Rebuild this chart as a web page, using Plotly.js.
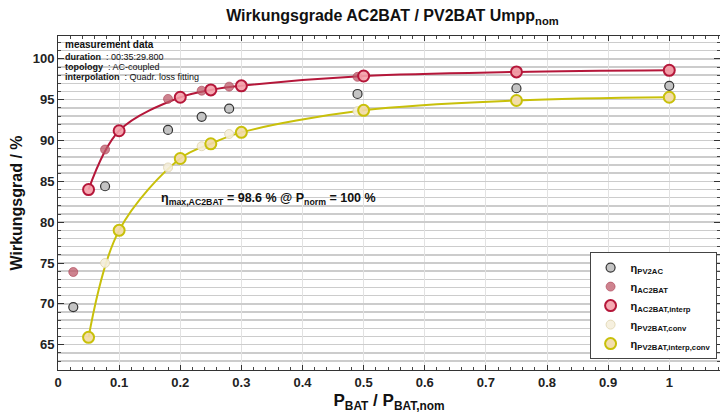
<!DOCTYPE html>
<html><head><meta charset="utf-8">
<script src="https://cdn.plot.ly/plotly-3.0.1.min.js"></script>
<style>html,body{margin:0;padding:0;background:#fff}#c{width:720px;height:415px}</style>
</head><body><div id="c"></div>
<script>
// measured points
const xMeas = [0.025, 0.077, 0.18, 0.235, 0.28, 0.49, 0.75, 1.0];
const etaPV2AC = [69.6, 84.4, 91.3, 92.9, 93.9, 95.7, 96.4, 96.7];
const etaAC2BAT = [73.9, 88.9, 95.1, 96.1, 96.6, 97.8, 98.4, 98.6];
const xConv = [0.077, 0.18, 0.235, 0.28, 0.49, 0.75, 1.0];
const etaPV2BATconv = [75.0, 86.7, 89.3, 90.8, 93.6, 94.8, 95.3];
// interpolation grid
const xInterp = [0.05, 0.1, 0.2, 0.25, 0.3, 0.5, 0.75, 1.0];
const etaAC2BATinterp = [84.0, 91.2, 95.3, 96.2, 96.7, 97.9, 98.4, 98.6];
const etaPV2BATinterp = [65.9, 79.0, 87.8, 89.6, 91.0, 93.7, 94.9, 95.3];

const xTicks = [0, 0.1, 0.2, 0.3, 0.4, 0.5, 0.6, 0.7, 0.8, 0.9, 1];
const xTickText = ['0','0.1','0.2','0.3','0.4','0.5','0.6','0.7','0.8','0.9','1'];
const yTicks = [65, 70, 75, 80, 85, 90, 95, 100];

const red = '#b5173a', yel = '#c8c00a';
const traces = [
  {x: xInterp, y: etaAC2BATinterp, mode: 'lines', line: {color: red, width: 2, shape: 'spline'}, showlegend: false, hoverinfo: 'skip'},
  {x: xInterp, y: etaPV2BATinterp, mode: 'lines', line: {color: yel, width: 2, shape: 'spline'}, showlegend: false, hoverinfo: 'skip'},
  {x: xMeas, y: etaPV2AC, mode: 'markers', name: 'η<sub>PV2AC</sub>',
   marker: {size: 9, color: '#c4c4c4', line: {color: '#333', width: 1.2}}},
  {x: xMeas, y: etaAC2BAT, mode: 'markers', name: 'η<sub>AC2BAT</sub>',
   marker: {size: 9, color: 'rgba(190,90,105,0.75)', line: {color: 'rgba(170,60,80,0.6)', width: 1}}},
  {x: xInterp, y: etaAC2BATinterp, mode: 'markers', name: 'η<sub>AC2BAT,interp</sub>',
   marker: {size: 11, color: 'rgba(245,160,170,0.9)', line: {color: red, width: 2}}},
  {x: xConv, y: etaPV2BATconv, mode: 'markers', name: 'η<sub>PV2BAT,conv</sub>',
   marker: {size: 9, color: 'rgba(245,238,220,0.9)', line: {color: 'rgba(225,215,180,0.9)', width: 1}}},
  {x: xInterp, y: etaPV2BATinterp, mode: 'markers', name: 'η<sub>PV2BAT,interp,conv</sub>',
   marker: {size: 11, color: 'rgba(242,218,165,0.9)', line: {color: yel, width: 2}}}
];

const F = 'Liberation Sans, Arial, sans-serif';
const layout = {
  width: 720, height: 415,
  margin: {l: 58, r: 0, t: 36, b: 45},
  paper_bgcolor: '#fff', plot_bgcolor: '#fff',
  font: {family: F, color: '#111'},
  title: {text: '<b>Wirkungsgrade AC2BAT / PV2BAT Umpp<sub>nom</sub></b>', x: 0.545, xanchor: 'center', y: 0.962, yanchor: 'middle', font: {size: 16, family: F, color: '#111'}},
  xaxis: {range: [0, 1.083], tickvals: xTicks, ticktext: xTickText, ticks: 'inside', ticklen: 5, tickcolor: '#333',
    showline: true, linecolor: '#333', linewidth: 1, mirror: 'ticks', zeroline: false,
    showgrid: true, gridcolor: '#e2e2e2', gridwidth: 1,
    minor: {dtick: 0.02, ticks: 'inside', ticklen: 3, tickcolor: '#444', showgrid: false},
    tickfont: {size: 13, family: F, color: '#222', weight: 'bold'},
    title: {text: '<b>P<sub>BAT</sub> / P<sub>BAT,nom</sub></b>', font: {size: 17, family: F, color: '#111'}, standoff: 5}},
  yaxis: {range: [61.9, 102.8], tickvals: yTicks, ticks: 'inside', ticklen: 6, tickcolor: '#333',
    showline: true, linecolor: '#333', linewidth: 1, mirror: 'ticks', zeroline: false,
    showgrid: true, gridcolor: '#cccccc', gridwidth: 1.5,
    minor: {dtick: 1, ticks: 'inside', ticklen: 3, tickcolor: '#444', showgrid: true, gridcolor: '#cccccc', gridwidth: 1.5},
    tickfont: {size: 13, family: F, color: '#222', weight: 'bold'},
    title: {text: '<b>Wirkungsgrad / %</b>', font: {size: 16, family: F, color: '#111'}, standoff: 6}},
  legend: {x: 0.803, y: 0.353, xanchor: 'left', yanchor: 'top', bgcolor: '#fff', bordercolor: '#444', borderwidth: 1,
    font: {size: 11, family: F, color: '#111', weight: 'bold'}, tracegroupgap: 0, itemsizing: 'trace'},
  shapes: [{type: 'rect', xref: 'paper', yref: 'paper', x0: 0.003, x1: 0.197, y0: 0.855, y1: 0.997, fillcolor: 'rgba(255,255,255,0.9)', line: {width: 0}, layer: 'between'}],
  annotations: [
    {xref: 'paper', yref: 'paper', x: 0.008, y: 0.975, xanchor: 'left', yanchor: 'middle', showarrow: false, text: '<b>measurement data</b>', font: {size: 10, family: F, color: '#111'}},
    {xref: 'paper', yref: 'paper', x: 0.008, y: 0.936, xanchor: 'left', yanchor: 'middle', showarrow: false, text: '<b>duration</b>  : 00:35:29.800', font: {size: 9, family: F, color: '#111'}},
    {xref: 'paper', yref: 'paper', x: 0.008, y: 0.906, xanchor: 'left', yanchor: 'middle', showarrow: false, text: '<b>topology</b>  : AC-coupled', font: {size: 9, family: F, color: '#111'}},
    {xref: 'paper', yref: 'paper', x: 0.008, y: 0.876, xanchor: 'left', yanchor: 'middle', showarrow: false, text: '<b>interpolation</b>  : Quadr. loss fitting', font: {size: 9, family: F, color: '#111'}},
    {xref: 'x', yref: 'y', x: 0.345, y: 82.9, xanchor: 'center', yanchor: 'middle', showarrow: false,
     text: '<b>η<sub>max,AC2BAT</sub> = 98.6 % @ P<sub>norm</sub> = 100 %</b>', font: {size: 12.5, family: F, color: '#111'}}
  ]
};
Plotly.newPlot('c', traces, layout, {staticPlot: true});
</script></body></html>
